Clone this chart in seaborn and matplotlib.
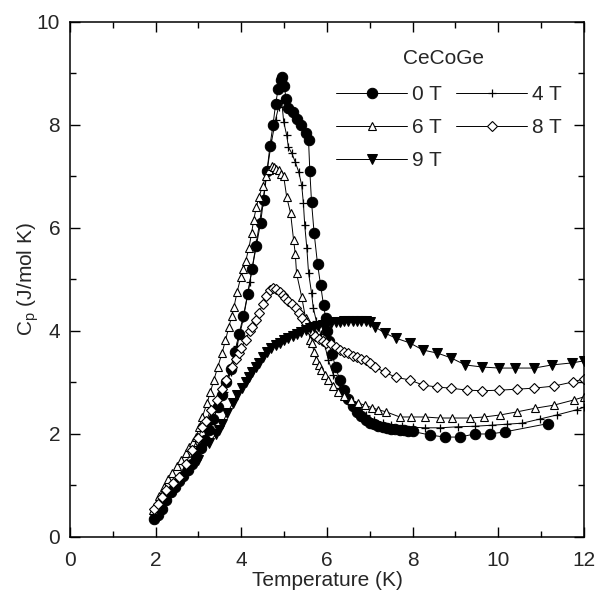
import numpy as np
import pandas as pd
import seaborn as sns
from matplotlib import pyplot as plt
from matplotlib.ticker import MultipleLocator

# Specific heat of CeCoGe in different magnetic fields
t_0T = [1.97, 2.05, 2.15, 2.25, 2.35, 2.45, 2.55, 2.65, 2.75, 2.85, 2.95, 3.05, 3.15,
        3.25, 3.35, 3.45, 3.55, 3.65, 3.75, 3.85, 3.95, 4.05, 4.15, 4.25, 4.35, 4.45,
        4.52, 4.6, 4.67, 4.74, 4.8, 4.86, 4.92, 4.96, 5.0, 5.05, 5.1, 5.2, 5.3, 5.4,
        5.5, 5.57, 5.6, 5.64, 5.7, 5.78, 5.85, 5.92, 5.97, 6.0, 6.05, 6.12, 6.2, 6.3,
        6.4, 6.5, 6.6, 6.7, 6.8, 6.9, 7.0, 7.1, 7.2, 7.3, 7.4, 7.5, 7.6, 7.7, 7.8,
        7.9, 8.0, 8.4, 8.75, 9.1, 9.45, 9.8, 10.15, 11.15]
cp_0T = [0.35, 0.42, 0.55, 0.72, 0.88, 0.98, 1.08, 1.18, 1.3, 1.42, 1.55, 1.72, 1.88,
         2.08, 2.3, 2.52, 2.76, 3.0, 3.27, 3.6, 3.95, 4.3, 4.72, 5.2, 5.65, 6.1,
         6.55, 7.1, 7.6, 8.0, 8.4, 8.7, 8.87, 8.93, 8.75, 8.5, 8.32, 8.25, 8.12, 8.0,
         7.85, 7.7, 7.1, 6.5, 5.9, 5.3, 4.9, 4.5, 4.25, 4.0, 3.8, 3.55, 3.3, 3.05,
         2.85, 2.68, 2.55, 2.43, 2.34, 2.27, 2.22, 2.19, 2.16, 2.14, 2.12, 2.1, 2.09,
         2.08, 2.07, 2.06, 2.05, 1.98, 1.94, 1.94, 2.0, 2.0, 2.04, 2.2]

t_4T = [1.97, 2.1, 2.25, 2.4, 2.55, 2.7, 2.85, 3.0, 3.15, 3.3, 3.45, 3.6, 3.75, 3.9,
        4.05, 4.2, 4.35, 4.5, 4.6, 4.7, 4.8, 4.87, 4.94, 4.99, 5.06, 5.1, 5.18, 5.26,
        5.34, 5.41, 5.45, 5.48, 5.53, 5.57, 5.64, 5.68, 5.75, 5.85, 5.95, 6.03, 6.15,
        6.3, 6.5, 6.7, 6.9, 7.1, 7.3, 7.5, 7.75, 8.0, 8.3, 8.65, 9.05, 9.45, 9.85,
        10.2, 10.56, 10.97, 11.37, 11.83, 12.0]
cp_4T = [0.42, 0.55, 0.75, 0.95, 1.12, 1.3, 1.5, 1.72, 1.95, 2.2, 2.5, 2.82, 3.2,
         3.7, 4.25, 4.95, 5.7, 6.5, 7.1, 7.65, 8.1, 8.35, 8.49, 8.06, 7.8, 7.57, 7.45,
         7.28, 7.09, 6.83, 6.48, 6.06, 5.61, 5.13, 4.74, 4.45, 4.2, 3.95, 3.72, 3.44,
         3.15, 2.9, 2.65, 2.48, 2.36, 2.28, 2.22, 2.18, 2.15, 2.13, 2.12, 2.12, 2.14,
         2.15, 2.17, 2.19, 2.21, 2.29, 2.37, 2.47, 2.52]

t_6T = [1.93, 2.0, 2.09, 2.2, 2.3, 2.39, 2.5, 2.6, 2.7, 2.78, 2.87, 2.95, 3.02, 3.09,
        3.2, 3.28, 3.36, 3.45, 3.55, 3.63, 3.71, 3.78, 3.83, 3.9, 3.99, 4.05, 4.1,
        4.18, 4.24, 4.29, 4.35, 4.41, 4.5, 4.57, 4.65, 4.72, 4.76, 4.82, 4.87, 4.93,
        4.99, 5.06, 5.15, 5.22, 5.26, 5.29, 5.41, 5.5, 5.61, 5.64, 5.7, 5.75, 5.81,
        5.87, 5.95, 6.03, 6.15, 6.26, 6.4, 6.57, 6.72, 6.89, 7.05, 7.2, 7.38, 7.7,
        7.96, 8.28, 8.63, 8.93, 9.33, 9.67, 10.05, 10.44, 10.86, 11.3, 11.76, 12.0]
cp_6T = [0.52, 0.62, 0.8, 0.98, 1.12, 1.24, 1.38, 1.5, 1.63, 1.75, 1.85, 1.94, 2.14,
         2.33, 2.6, 2.82, 3.05, 3.3, 3.57, 3.82, 4.08, 4.3, 4.47, 4.75, 5.05, 5.2,
         5.35, 5.62, 5.9, 6.16, 6.4, 6.6, 6.82, 7.0, 7.12, 7.2, 7.18, 7.15, 7.12, 7.05,
         7.0, 6.6, 6.29, 5.77, 5.5, 5.12, 4.66, 4.25, 3.83, 3.77, 3.6, 3.44, 3.34,
         3.24, 3.14, 3.05, 2.93, 2.82, 2.74, 2.66, 2.6, 2.56, 2.51, 2.47, 2.43, 2.33,
         2.33, 2.33, 2.31, 2.31, 2.31, 2.33, 2.37, 2.43, 2.5, 2.56, 2.66, 2.72]

t_8T = [1.97, 2.05, 2.15, 2.25, 2.4, 2.55, 2.7, 2.85, 3.0, 3.09, 3.18, 3.29, 3.43,
        3.55, 3.64, 3.78, 3.87, 3.94, 4.0, 4.1, 4.2, 4.25, 4.34, 4.41, 4.5, 4.57,
        4.67, 4.75, 4.82, 4.9, 4.97, 5.03, 5.1, 5.18, 5.27, 5.35, 5.42, 5.5, 5.58,
        5.65, 5.73, 5.82, 5.9, 5.98, 6.1, 6.2, 6.3, 6.4, 6.5, 6.6, 6.7, 6.8, 6.9, 7.0,
        7.12, 7.35, 7.61, 7.93, 8.24, 8.58, 8.89, 9.28, 9.63, 10.02, 10.44, 10.84,
        11.3, 11.74, 12.0]
cp_8T = [0.55, 0.65, 0.78, 0.91, 1.04, 1.17, 1.42, 1.69, 1.93, 2.14, 2.25, 2.47,
         2.66, 2.88, 3.05, 3.3, 3.45, 3.57, 3.67, 3.83, 4.0, 4.08, 4.22, 4.35, 4.52,
         4.68, 4.8, 4.83, 4.82, 4.76, 4.7, 4.64, 4.58, 4.52, 4.45, 4.35, 4.25, 4.16,
         4.08, 3.98, 3.9, 3.85, 3.8, 3.77, 3.74, 3.68, 3.64, 3.6, 3.57, 3.52, 3.49,
         3.46, 3.43, 3.38, 3.3, 3.2, 3.1, 3.05, 2.95, 2.91, 2.89, 2.85, 2.84, 2.85,
         2.87, 2.89, 2.93, 3.01, 3.07]

t_9T = [3.0, 3.25, 3.41, 3.48, 3.55, 3.67, 3.8, 3.9, 4.02, 4.1, 4.18, 4.26, 4.34,
        4.41, 4.5, 4.6, 4.7, 4.8, 4.9, 5.0, 5.1, 5.2, 5.3, 5.4, 5.5, 5.6, 5.7, 5.8,
        5.9, 6.0, 6.1, 6.2, 6.3, 6.4, 6.5, 6.6, 6.7, 6.8, 6.9, 7.0, 7.12, 7.35, 7.61,
        7.93, 8.24, 8.58, 8.89, 9.23, 9.63, 10.02, 10.4, 10.84, 11.25, 11.72, 12.0]
cp_9T = [1.5, 1.83, 2.0, 2.08, 2.2, 2.4, 2.6, 2.76, 2.9, 3.0, 3.1, 3.2, 3.3, 3.38,
         3.5, 3.6, 3.66, 3.72, 3.77, 3.82, 3.86, 3.9, 3.94, 3.98, 4.02, 4.05, 4.08,
         4.1, 4.12, 4.14, 4.16, 4.17, 4.18, 4.19, 4.2, 4.2, 4.2, 4.2, 4.19, 4.18,
         4.08, 3.96, 3.86, 3.77, 3.63, 3.57, 3.48, 3.34, 3.3, 3.28, 3.28, 3.28, 3.34,
         3.38, 3.42]

series = [
    ("0 T", t_0T, cp_0T, dict(marker="o", ms=7.5, mfc="black")),
    ("4 T", t_4T, cp_4T, dict(marker="+", ms=6, mew=0.9)),
    ("6 T", t_6T, cp_6T, dict(marker="^", ms=6, mfc="white", mew=0.8)),
    ("8 T", t_8T, cp_8T, dict(marker="D", ms=5, mfc="white", mew=0.8)),
    ("9 T", t_9T, cp_9T, dict(marker="v", ms=6.5, mfc="black")),
]

sns.set_style("ticks")
plt.rcParams["font.family"] = ["Liberation Sans", "DejaVu Sans"]
fs = 15

fig = plt.figure(figsize=(5.96, 5.94), dpi=100)
ax = fig.add_axes([0.1174, 0.096, 0.8624, 0.867])

handles = {}
for label, t, cp, style in series:
    df = pd.DataFrame({"T": t, "Cp": cp})
    sns.lineplot(data=df, x="T", y="Cp", ax=ax, color="black", lw=0.7,
                 estimator=None, sort=False, mec="black", label=label, **style)
    handles[label] = ax.lines[-1]

ax.set_xlim(0, 12)
ax.set_ylim(0, 10)
ax.xaxis.set_major_locator(MultipleLocator(2))
ax.xaxis.set_minor_locator(MultipleLocator(1))
ax.yaxis.set_major_locator(MultipleLocator(2))
ax.yaxis.set_minor_locator(MultipleLocator(1))
ax.tick_params(which="both", direction="in", top=True, right=True,
               labelsize=fs, color="black", width=1.0)
ax.tick_params(which="major", length=7)
ax.tick_params(which="minor", length=4)
ax.tick_params(axis="x", pad=10)
ax.tick_params(axis="y", pad=7)
for sp in ax.spines.values():
    sp.set_linewidth(1.1)
    sp.set_color("black")

ax.set_xlabel("Temperature (K)", fontsize=fs, labelpad=1)
ax.set_ylabel("C$_\\mathregular{p}$ (J/mol K)", fontsize=fs, labelpad=-3)

# legend rows: 0T 4T / 6T 8T / 9T
order = ["0 T", "6 T", "9 T", "4 T", "8 T"]
ax.legend([handles[k] for k in order], order, ncol=2, frameon=False,
          fontsize=fs, numpoints=1, handlelength=3.4, handletextpad=0.25,
          columnspacing=0.67, labelspacing=0.68, borderpad=0, borderaxespad=0,
          loc="upper left", bbox_to_anchor=(0.518, 0.878))
ax.text(0.648, 0.930, "CeCoGe", transform=ax.transAxes, fontsize=fs,
        ha="left", va="center")

fig.savefig("out.png", dpi=100)
